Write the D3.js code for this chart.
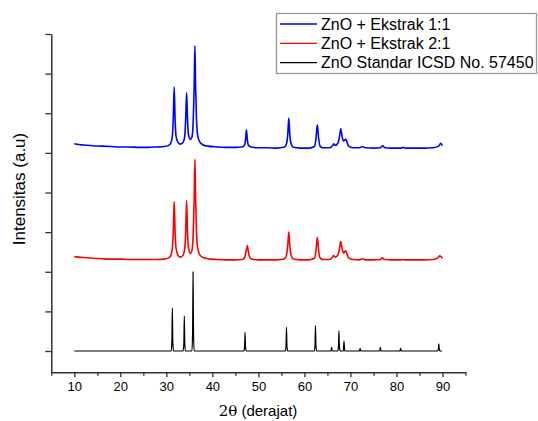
<!DOCTYPE html>
<html>
<head>
<meta charset="utf-8">
<script src="https://cdn.jsdelivr.net/npm/d3@7"></script>
<style>
  html, body { margin: 0; padding: 0; background: #fff; }
  svg { display: block; font-family: "Liberation Sans", Arial, sans-serif; }
</style>
</head>
<body>
<svg id="chart" width="538" height="421"></svg>
<script>
// ---- data (2θ in degrees, intensity in arbitrary units, offset stacked) ----
const seriesNames = ["ZnO + Ekstrak 1:1", "ZnO + Ekstrak 2:1", "ZnO Standar ICSD No. 57450"];
const seriesColors = ["#0000ff", "#ff0000", "#000000"];

const blue11 = [
  [10,5230],[11,5210],[12,5200],[14,5180],[16,5170],[18,5160],[20,5150],[22,5150],[24,5140],[26,5140],[28,5150],
  [29.5,5160],[30.5,5190],[31.0,5260],[31.3,5420],[31.5,5850],[31.7,6660],[31.9,5850],[32.1,5420],[32.5,5270],
  [33.0,5220],[33.6,5260],[34.0,5420],[34.2,5850],[34.4,6520],[34.6,5850],[34.8,5460],[35.2,5340],[35.6,5420],
  [35.85,5850],[36.05,6700],[36.2,7700],[36.35,6700],[36.55,5850],[36.8,5450],[37.3,5270],[38,5200],[39,5170],
  [41,5150],[43,5140],[45,5140],[46.5,5150],[47.0,5200],[47.2,5330],[47.4,5580],[47.6,5330],[47.8,5200],[48.4,5150],
  [50,5130],[52,5130],[54,5120],[55.6,5140],[56.1,5230],[56.4,5500],[56.6,5880],[56.8,5500],[57.1,5230],[57.6,5140],
  [59,5120],[61,5120],[62.2,5160],[62.5,5350],[62.8,5710],[63.1,5350],[63.4,5170],[64,5130],[65.5,5130],[66.1,5180],
  [66.4,5230],[66.7,5190],[67.3,5250],[67.6,5400],[67.9,5610],[68.2,5400],[68.5,5300],[68.8,5330],[69.0,5350],
  [69.2,5290],[69.6,5170],[70.5,5130],[72,5130],[72.6,5160],[73.2,5130],[75,5120],[76.5,5130],[77.0,5180],[77.5,5130],
  [79,5120],[81,5120],[81.4,5140],[82,5120],[84,5120],[86,5120],[88,5130],[89.2,5170],[89.6,5240],[90,5180]
];

const red21 = [
  [10,2380],[11,2370],[12,2360],[14,2340],[16,2330],[18,2320],[20,2320],[22,2310],[24,2310],[26,2310],[28,2310],
  [29.5,2320],[30.5,2350],[31.0,2420],[31.3,2600],[31.5,3000],[31.7,3770],[31.9,3000],[32.1,2600],[32.5,2420],
  [33.0,2370],[33.6,2410],[34.0,2600],[34.2,3000],[34.4,3800],[34.6,3000],[34.8,2600],[35.2,2460],[35.6,2560],
  [35.85,3000],[36.05,3900],[36.2,4840],[36.35,3900],[36.55,3000],[36.8,2600],[37.3,2420],[38,2360],[39,2330],
  [41,2310],[43,2300],[45,2300],[46.5,2310],[47.0,2360],[47.2,2450],[47.4,2560],[47.6,2660],[47.8,2520],[48.0,2400],[48.5,2320],
  [50,2300],[52,2300],[54,2300],[55.6,2320],[56.1,2420],[56.4,2700],[56.6,3000],[56.8,2700],[57.1,2420],[57.6,2320],
  [59,2300],[61,2300],[62.2,2340],[62.5,2520],[62.8,2870],[63.1,2520],[63.4,2350],[64,2310],[65.5,2310],[66.1,2370],
  [66.3,2410],[66.7,2370],[67.3,2430],[67.6,2580],[67.9,2760],[68.2,2580],[68.5,2470],[68.8,2510],[69.0,2530],
  [69.2,2470],[69.6,2350],[70.5,2310],[72,2300],[72.6,2330],[73.2,2300],[75,2300],[76.5,2310],[76.9,2350],[77.4,2310],
  [79,2300],[81,2300],[81.3,2310],[82,2300],[84,2300],[86,2300],[88,2310],[89.0,2350],[89.4,2400],[90,2340]
];

const black57450 = [
  [10,0],[31.05,0],[31.2,250],[31.3,1080],[31.4,250],[31.55,0],
  [33.65,0],[33.8,200],[33.9,880],[34.0,200],[34.15,0],
  [35.55,0],[35.7,450],[35.8,2000],[35.9,450],[36.05,0],
  [46.85,0],[47.0,110],[47.1,470],[47.2,110],[47.35,0],
  [55.85,0],[56.0,140],[56.1,600],[56.2,140],[56.35,0],
  [62.15,0],[62.3,150],[62.4,640],[62.5,150],[62.65,0],
  [65.75,0],[65.9,90],[66.05,0],
  [67.25,0],[67.4,120],[67.5,510],[67.6,120],[67.75,0],
  [68.45,0],[68.6,250],[68.75,0],
  [71.95,0],[72.1,70],[72.25,0],
  [76.35,0],[76.5,90],[76.65,0],
  [80.75,0],[80.9,70],[81.05,0],
  [89.0,0],[89.1,60],[89.2,180],[89.3,60],[89.45,0],[89.9,0]
];

const seriesData = [blue11, red21, black57450];

const xTickValues = [5,10,15,20,25,30,35,40,45,50,55,60,65,70,75,80,85,90,95];
const xTickLabels = [10,20,30,40,50,60,70,80,90];
const yTickValues = [0,1000,2000,3000,4000,5000,6000,7000,8000];

// ---- layout ----
const svg = d3.select("#chart");
const x = d3.scaleLinear().domain([5, 95]).range([51.3, 465.5]);
const y = d3.scaleLinear().domain([-537, 8000]).range([372.3, 34]);
const axisColor = "#333";

// series lines
const line = d3.line().x(d => x(d[0])).y(d => y(d[1])).curve(d3.curveMonotoneX);
seriesData.forEach((data, i) => {
  svg.append("path")
    .datum(data)
    .attr("d", line)
    .attr("fill", "none")
    .attr("stroke", seriesColors[i])
    .attr("stroke-width", i === 2 ? 1.2 : 1.6)
    .attr("stroke-linejoin", "round");
});

// x axis
const xAxis = d3.axisBottom(x)
  .tickValues(xTickValues)
  .tickSize(5)
  .tickSizeOuter(0)
  .tickFormat(d => xTickLabels.includes(d) ? d : "");
const gx = svg.append("g").attr("transform", `translate(0,${y(-537)})`).call(xAxis);
gx.select(".domain").attr("stroke", axisColor).attr("stroke-width", 1.5);
gx.selectAll(".tick line").attr("stroke", axisColor).attr("stroke-width", 1.3)
  .attr("y2", d => xTickLabels.includes(d) ? 5 : 3.5);
gx.selectAll(".tick text").attr("font-size", 13).attr("fill", "#000")
  .attr("font-family", "Liberation Sans, Arial, sans-serif").attr("dy", "0.72em").attr("y", 9);

// y axis
const yAxis = d3.axisLeft(y)
  .tickValues(yTickValues)
  .tickSize(6)
  .tickSizeOuter(0)
  .tickFormat("");
const gy = svg.append("g").attr("transform", `translate(${x(5)},0)`).call(yAxis);
gy.select(".domain").attr("stroke", axisColor).attr("stroke-width", 1.5);
gy.selectAll(".tick line").attr("stroke", axisColor).attr("stroke-width", 1.3);

// axis titles
const xt = svg.append("text")
  .attr("x", 258).attr("y", 416)
  .attr("text-anchor", "middle")
  .attr("font-size", 15).attr("fill", "#000");
xt.append("tspan").attr("font-family", "DejaVu Serif, serif").text("2θ");
xt.append("tspan").text(" (derajat)");

svg.append("text")
  .attr("transform", "translate(25,189) rotate(-90)")
  .attr("text-anchor", "middle")
  .attr("font-size", 17).attr("fill", "#000")
  .text("Intensitas (a.u)");

// legend
const lg = svg.append("g");
lg.append("rect")
  .attr("x", 276.5).attr("y", 13.5).attr("width", 260).attr("height", 60)
  .attr("fill", "#fff").attr("stroke", "#999").attr("stroke-width", 1.3);
const rowY = [24, 43.3, 62.7];
seriesNames.forEach((name, i) => {
  lg.append("line")
    .attr("x1", 280).attr("x2", 317)
    .attr("y1", rowY[i]).attr("y2", rowY[i])
    .attr("stroke", seriesColors[i]).attr("stroke-width", 1.3);
  lg.append("text")
    .attr("x", 321).attr("y", rowY[i] + 5.5)
    .attr("font-size", 16).attr("fill", "#000")
    .text(name);
});
</script>
</body>
</html>
